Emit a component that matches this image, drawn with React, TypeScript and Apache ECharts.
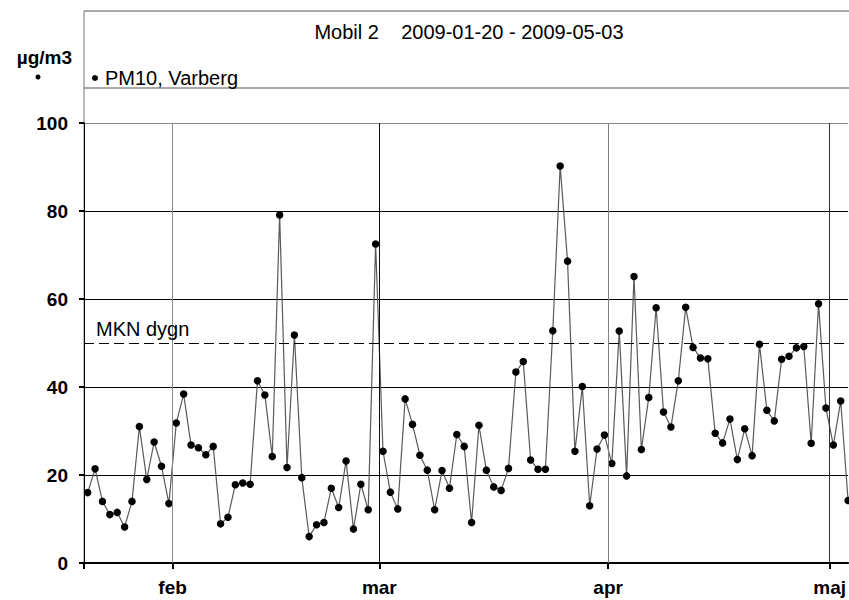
import React, { useEffect, useRef } from "react";
import * as echarts from "echarts";

// PM10 daily means, Varberg (µg/m3), starting 2009-01-20
const startDate = "2009-01-20";
const valuesJan = [16, 21.4, 14, 11, 11.5, 8.2, 14, 31, 19, 27.5, 22, 13.5];
const valuesFeb = [31.8, 38.4, 26.8, 26.2, 24.6, 26.5, 8.9, 10.4, 17.8, 18.2, 17.9, 41.4, 38.2, 24.2, 79.1, 21.7, 51.8, 19.4, 6, 8.7, 9.2, 17, 12.6, 23.2, 7.7, 17.9, 12.1, 72.5];
const valuesMar = [25.4, 16.1, 12.3, 37.3, 31.5, 24.5, 21.1, 12.1, 21, 17, 29.2, 26.5, 9.2, 31.3, 21.1, 17.3, 16.5, 21.5, 43.4, 45.8, 23.4, 21.3, 21.3, 52.8, 90.2, 68.6, 25.4, 40.1, 13, 25.9, 29.1];
const valuesApr = [22.6, 52.7, 19.8, 65.1, 25.8, 37.6, 58, 34.3, 30.9, 41.4, 58.1, 49, 46.6, 46.4, 29.5, 27.3, 32.7, 23.5, 30.5, 24.4, 49.7, 34.7, 32.3, 46.3, 47, 48.9, 49.2, 27.2, 58.9, 35.2];
const valuesMay = [26.8, 36.8, 14.2];

// month boundaries (days after start date) and their labels
const monthStartDays = [12, 40, 71, 101];
const monthLabels = ["feb", "mar", "apr", "maj"];
const monthLineColors = ["#8a8a8a", "#111", "#808080", "#333"];

const yTicks = [0, 20, 40, 60, 80, 100];
const limitValue = 50;
const limitLabel = "MKN dygn";
const seriesName = "PM10, Varberg";
const titleText = "Mobil 2    " + startDate + " - 2009-05-03";
const unitLabel = "µg/m3";

const FONT = "'Liberation Sans', Arial, sans-serif";

export default function App() {
  const ref = useRef<HTMLDivElement>(null);
  useEffect(() => {
    if (!ref.current) return;
    const chart = echarts.init(ref.current, null, { renderer: "svg" });
    const values = [...valuesJan, ...valuesFeb, ...valuesMar, ...valuesApr, ...valuesMay];
    // daily means plotted at noon of each day
    const data = values.map((v, i) => [i + 0.5, v]);

    const option: any = {
      animation: false,
      textStyle: { fontFamily: FONT },
      title: {
        text: titleText,
        left: 464,
        top: 17,
        textAlign: "center",
        textStyle: { fontSize: 20, fontWeight: "normal", color: "#000", fontFamily: FONT },
      },
      legend: {
        data: [seriesName],
        left: 87,
        top: 63,
        icon: "circle",
        itemWidth: 6,
        itemHeight: 6,
        itemGap: 10,
        textStyle: { fontSize: 20, color: "#000", fontFamily: FONT, padding: [0, 0, 0, 2] },
      },
      grid: { left: 84, right: 0, top: 123, bottom: 37 },
      xAxis: {
        type: "value",
        min: 0,
        max: 103.5,
        offset: 2,
        axisLine: { show: true, lineStyle: { color: "#000", width: 2 } },
        axisTick: {
          show: true,
          customValues: [0, ...monthStartDays],
          length: 6,
          lineStyle: { color: "#000", width: 2 },
        },
        axisLabel: {
          customValues: monthStartDays,
          formatter: (v: number) => monthLabels[monthStartDays.indexOf(Math.round(v))] || "",
          fontSize: 19,
          fontWeight: "bold",
          color: "#000",
          margin: 13,
          fontFamily: FONT,
        },
        splitLine: { show: false },
      },
      yAxis: {
        type: "value",
        min: 0,
        max: 100,
        interval: 20,
        offset: 4,
        name: unitLabel,
        nameLocation: "end",
        nameGap: 66,
        nameTextStyle: {
          fontSize: 19,
          fontWeight: "bold",
          color: "#000",
          align: "right",
          verticalAlign: "middle",
          padding: [0, 12, 0, 0],
          fontFamily: FONT,
        },
        axisLine: { show: true, lineStyle: { color: "#000", width: 1 } },
        axisTick: { show: true, length: 5, lineStyle: { color: "#000", width: 2 } },
        axisLabel: {
          fontSize: 19,
          fontWeight: "bold",
          color: "#000",
          margin: 12,
          fontFamily: FONT,
        },
        splitLine: {
          show: true,
          lineStyle: { color: yTicks.map((t) => (t === 100 ? "#888" : "#000")), width: 1 },
        },
      },
      series: [
        {
          name: seriesName,
          type: "line",
          data,
          symbol: "circle",
          symbolSize: 7.5,
          clip: false,
          itemStyle: { color: "#000" },
          lineStyle: { color: "#5a5a5a", width: 1.2 },
          z: 3,
          markLine: {
            silent: true,
            symbol: ["none", "none"],
            animation: false,
            data: [
              ...monthStartDays.map((d, i) => ({
                xAxis: d,
                lineStyle: { color: monthLineColors[i], width: 1, type: "solid" },
                label: { show: false },
              })),
              {
                yAxis: limitValue,
                lineStyle: { color: "#000", width: 1, type: [10, 5] },
                label: {
                  show: true,
                  position: "insideStartTop",
                  formatter: limitLabel,
                  fontSize: 20,
                  color: "#000",
                  fontFamily: FONT,
                  distance: [12, 4],
                },
              },
            ],
          },
        },
      ],
      graphic: [
        { type: "line", shape: { x1: 84, y1: 11, x2: 849, y2: 11 }, style: { stroke: "#555", lineWidth: 1 } },
        { type: "line", shape: { x1: 84, y1: 88, x2: 849, y2: 88 }, style: { stroke: "#555", lineWidth: 1 } },
        { type: "line", shape: { x1: 84, y1: 11, x2: 84, y2: 563 }, style: { stroke: "#777", lineWidth: 1 } },
        { type: "circle", shape: { cx: 38, cy: 77, r: 2.5 }, style: { fill: "#000" } },
      ],
    };
    chart.setOption(option);
    return () => chart.dispose();
  }, []);
  return (
    <div
      ref={ref}
      style={{ position: "fixed", left: 0, top: 0, width: 849, height: 600, background: "#fff" }}
    />
  );
}
